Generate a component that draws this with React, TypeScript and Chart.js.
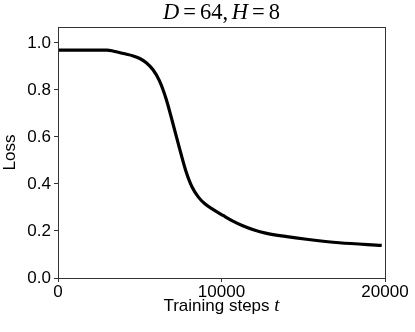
import React, { useEffect, useRef } from "react";
import { Chart, registerables } from "chart.js";

Chart.register(...registerables);

const steps = [0, 1000, 2000, 3000, 3400, 4000, 4600, 5000, 5400, 5800, 6200, 6600, 7000, 7400, 7800, 8200, 8600, 9000, 9500, 10100, 10700, 11300, 12000, 12700, 14000, 15200, 17200, 19800];
const loss = [0.970, 0.970, 0.970, 0.970, 0.965, 0.955, 0.945, 0.934, 0.916, 0.887, 0.840, 0.765, 0.665, 0.560, 0.460, 0.387, 0.343, 0.315, 0.291, 0.266, 0.242, 0.222, 0.204, 0.191, 0.176, 0.165, 0.150, 0.139];
const xTicks = [0, 10000, 20000];
const yTicks = [0, 0.2, 0.4, 0.6, 0.8, 1.0];
const titleParts: [string, boolean][] = [["D", true], ["=", false], ["64,", false], [" ", false], ["H", true], ["=", false], ["8", false]];
const xLabel = "Training steps ";
const xLabelVar = "t";
const yLabel = "Loss";

const SANS = "'Liberation Sans', Arial, sans-serif";
const SERIF = "'Liberation Serif', 'Times New Roman', serif";

const textPlugin = {
  id: "texts",
  afterDraw(chart: any) {
    const { ctx, chartArea } = chart;
    ctx.save();
    ctx.strokeStyle = "#333";
    ctx.lineWidth = 1;
    ctx.strokeRect(Math.round(chartArea.left) + 0.5, Math.round(chartArea.top) + 0.5, Math.round(chartArea.right - chartArea.left), Math.round(chartArea.bottom - chartArea.top));
    ctx.fillStyle = "#000";
    ctx.textBaseline = "alphabetic";
    ctx.textAlign = "left";
    const cx = (chartArea.left + chartArea.right) / 2;
    const tSize = 22.5;
    const pad = (s: string) => (s === "=" ? 4 : s === " " ? -1 : 0);
    let total = 0;
    for (const [s, it] of titleParts) {
      ctx.font = `${it ? "italic " : ""}${tSize}px ${SERIF}`;
      total += ctx.measureText(s).width + 2 * pad(s);
    }
    let x = cx - total / 2;
    for (const [s, it] of titleParts) {
      ctx.font = `${it ? "italic " : ""}${tSize}px ${SERIF}`;
      x += pad(s);
      ctx.fillText(s, x, 19);
      x += ctx.measureText(s).width + pad(s);
    }
    ctx.font = `17px ${SANS}`;
    const w1 = ctx.measureText(xLabel).width;
    ctx.font = `italic 19px ${SERIF}`;
    const w2 = ctx.measureText(xLabelVar).width;
    const lx = cx - (w1 + w2) / 2;
    ctx.font = `17px ${SANS}`;
    ctx.fillText(xLabel, lx, 311);
    ctx.font = `italic 19px ${SERIF}`;
    ctx.fillText(xLabelVar, lx + w1, 311);
    ctx.restore();
  },
};

export default function App() {
  const ref = useRef<HTMLCanvasElement>(null);
  useEffect(() => {
    if (!ref.current) return;
    const chart = new Chart(ref.current, {
      type: "line",
      data: {
        datasets: [
          {
            data: steps.map((s, i) => ({ x: s, y: loss[i] })),
            borderColor: "#000",
            borderWidth: 3.2,
            pointRadius: 0,
            cubicInterpolationMode: "monotone",
            fill: false,
          },
        ],
      },
      options: {
        responsive: false,
        animation: false,
        devicePixelRatio: 1,
        layout: { padding: { top: 27, right: 30, left: 0, bottom: 0 } },
        plugins: { legend: { display: false }, tooltip: { enabled: false }, title: { display: false } },
        scales: {
          x: {
            type: "linear",
            min: 0,
            max: 20000,
            afterFit: (s: any) => { s.height = 54; },
            afterBuildTicks: (s: any) => { s.ticks = xTicks.map((v) => ({ value: v })); },
            grid: { drawOnChartArea: false, drawTicks: true, tickLength: 4, color: "#333" },
            border: { display: true, color: "#333" },
            ticks: {
              autoSkip: false,
              maxRotation: 0,
              padding: 0,
              color: "#000",
              font: { family: SANS, size: 17 },
              callback: (v: any) => String(v),
            },
          },
          y: {
            type: "linear",
            min: 0,
            max: 1.068,
            afterFit: (s: any) => { s.width = 58; },
            afterBuildTicks: (s: any) => { s.ticks = yTicks.map((v) => ({ value: v })); },
            grid: { drawOnChartArea: false, drawTicks: true, tickLength: 4, color: "#333" },
            border: { display: true, color: "#333" },
            title: { display: true, text: yLabel, color: "#000", font: { family: SANS, size: 17 }, padding: { top: 0, bottom: 0 } },
            ticks: {
              padding: 3,
              color: "#000",
              font: { family: SANS, size: 17 },
              callback: (v: any) => Number(v).toFixed(1),
            },
          },
        },
      },
      plugins: [textPlugin],
    } as any);
    return () => chart.destroy();
  }, []);
  return (
    <div style={{ position: "fixed", left: 0, top: 0, width: 415, height: 332, background: "#fff" }}>
      <canvas ref={ref} width={415} height={332} style={{ display: "block" }} />
    </div>
  );
}
